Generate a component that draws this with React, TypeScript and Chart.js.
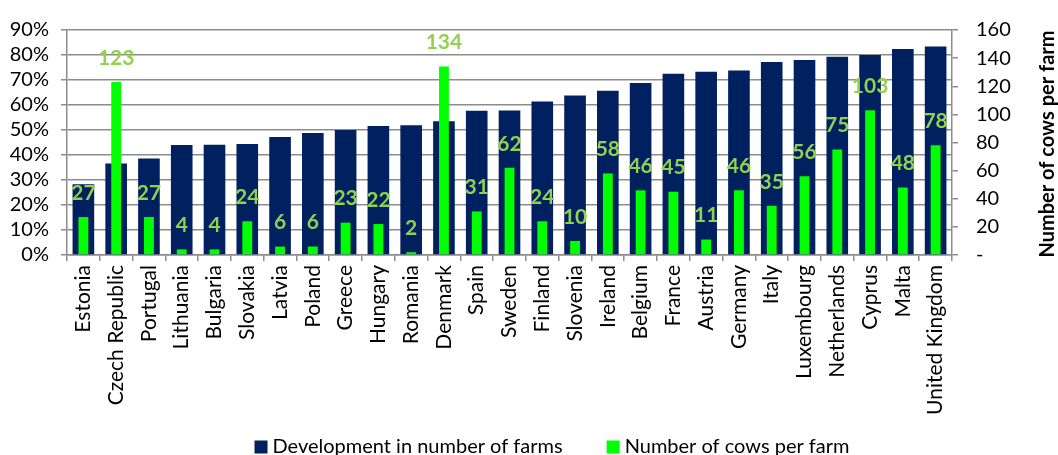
import React, { useEffect, useRef } from 'react';
import { Chart, registerables } from 'chart.js';

Chart.register(...registerables);

const countries = [
  'Estonia', 'Czech Republic', 'Portugal', 'Lithuania', 'Bulgaria', 'Slovakia', 'Latvia', 'Poland', 'Greece',
  'Hungary', 'Romania', 'Denmark', 'Spain', 'Sweden', 'Finland', 'Slovenia', 'Ireland', 'Belgium', 'France',
  'Austria', 'Germany', 'Italy', 'Luxembourg', 'Netherlands', 'Cyprus', 'Malta', 'United Kingdom',
];

const farmsDevelopment = [
  28.3, 36.6, 38.6, 44.0, 44.1, 44.4, 47.2, 48.8, 50.0,
  51.6, 51.9, 53.5, 57.7, 57.8, 61.4, 63.8, 65.7, 68.8, 72.5,
  73.3, 73.8, 77.2, 78.0, 79.3, 80.0, 82.4, 83.4,
];

const cowsPerFarm = [
  27, 123, 27, 4, 4, 24, 6, 6, 23,
  22, 2, 134, 31, 62, 24, 10, 58, 46, 45,
  11, 46, 35, 56, 75, 103, 48, 78,
];

const seriesLabels = ['Development in number of farms', 'Number of cows per farm'];
const rightAxisTitle = 'Number of cows per farm';

const BLUE = '#002060';
const GREEN = '#00FF00';
const LABEL_GREEN = '#92D050';
const GRID = '#8c8c8c';
const FONT = 'Lato';

const extrasPlugin = {
  id: 'extras',
  afterDatasetsDraw(chart: any) {
    const ctx = chart.ctx;
    const meta = chart.getDatasetMeta(1);
    ctx.save();
    ctx.font = `bold 21px ${FONT}`;
    ctx.fillStyle = LABEL_GREEN;
    ctx.textAlign = 'center';
    ctx.textBaseline = 'middle';
    meta.data.forEach((el: any, i: number) => {
      ctx.fillText(String(cowsPerFarm[i]), el.x, el.y - 24);
    });
    ctx.restore();
  },
  afterDraw(chart: any) {
    const ctx = chart.ctx;
    ctx.save();
    // right axis title, reading bottom to top
    ctx.font = `bold 20px ${FONT}`;
    ctx.fillStyle = '#000';
    ctx.textAlign = 'center';
    ctx.textBaseline = 'middle';
    ctx.translate(1048, 144);
    ctx.rotate(-Math.PI / 2);
    ctx.fillText(rightAxisTitle, 0, 0);
    ctx.restore();

    // legend
    ctx.save();
    ctx.font = `20px ${FONT}`;
    ctx.textBaseline = 'middle';
    ctx.textAlign = 'left';
    const box = 13;
    const textGap = 5;
    const itemGap = 44;
    const colors = [BLUE, GREEN];
    const widths = seriesLabels.map((t) => ctx.measureText(t).width);
    const total = widths.reduce((a, w) => a + box + textGap + w, 0) + itemGap;
    let x = 552 - total / 2;
    const y = 447;
    seriesLabels.forEach((t, i) => {
      ctx.fillStyle = colors[i];
      ctx.fillRect(x, y - box / 2, box, box);
      ctx.fillStyle = '#000';
      ctx.fillText(t, x + box + textGap, y);
      x += box + textGap + widths[i] + itemGap;
    });
    ctx.restore();
  },
};

export default function App() {
  const canvasRef = useRef<HTMLCanvasElement | null>(null);

  useEffect(() => {
    if (!canvasRef.current) return;
    const chart = new Chart(canvasRef.current, {
      type: 'bar',
      data: {
        labels: countries,
        datasets: [
          {
            label: seriesLabels[0],
            data: farmsDevelopment,
            backgroundColor: BLUE,
            yAxisID: 'y',
            grouped: false,
            barPercentage: 0.66,
            categoryPercentage: 1,
            order: 2,
          },
          {
            label: seriesLabels[1],
            data: cowsPerFarm,
            backgroundColor: GREEN,
            yAxisID: 'y1',
            grouped: false,
            barPercentage: 0.3,
            categoryPercentage: 1,
            order: 1,
          },
        ],
      },
      options: {
        animation: false,
        responsive: true,
        maintainAspectRatio: false,
        layout: { padding: { top: 23, left: 0, right: 0, bottom: 0 } },
        plugins: {
          legend: { display: false },
          tooltip: { enabled: false },
        },
        scales: {
          x: {
            grid: { offset: true, drawOnChartArea: false, tickLength: 6, color: GRID, lineWidth: 1.5 },
            border: { color: GRID, width: 1.5 },
            ticks: {
              autoSkip: false,
              maxRotation: 90,
              minRotation: 90,
              padding: 4,
              color: '#000',
              font: { family: FONT, size: 21 },
            },
            afterFit: (s: any) => {
              s.height = 200;
            },
          },
          y: {
            position: 'left',
            min: 0,
            max: 90,
            ticks: {
              stepSize: 10,
              autoSkip: false,
              padding: 12,
              color: '#000',
              font: { family: FONT, size: 20 },
              callback: (v: any) => `${v}%`,
            },
            grid: { color: GRID, lineWidth: 1.5, tickLength: 6 },
            border: { color: GRID, width: 1.5 },
            afterFit: (s: any) => {
              s.width = 67;
            },
          },
          y1: {
            position: 'right',
            min: 0,
            max: 160,
            ticks: {
              stepSize: 20,
              autoSkip: false,
              padding: 18,
              color: '#000',
              font: { family: FONT, size: 20 },
              callback: (v: any) => (v === 0 ? '-' : `${v}`),
            },
            grid: { drawOnChartArea: false, color: GRID, lineWidth: 1.5, tickLength: 6 },
            border: { color: GRID, width: 1.5 },
            afterFit: (s: any) => {
              s.width = 106;
            },
          },
        },
      },
      plugins: [extrasPlugin],
    });
    return () => chart.destroy();
  }, []);

  return (
    <div style={{ position: 'absolute', left: 0, top: 0, width: 1058, height: 455, background: '#fff' }}>
      <canvas ref={canvasRef} />
    </div>
  );
}
